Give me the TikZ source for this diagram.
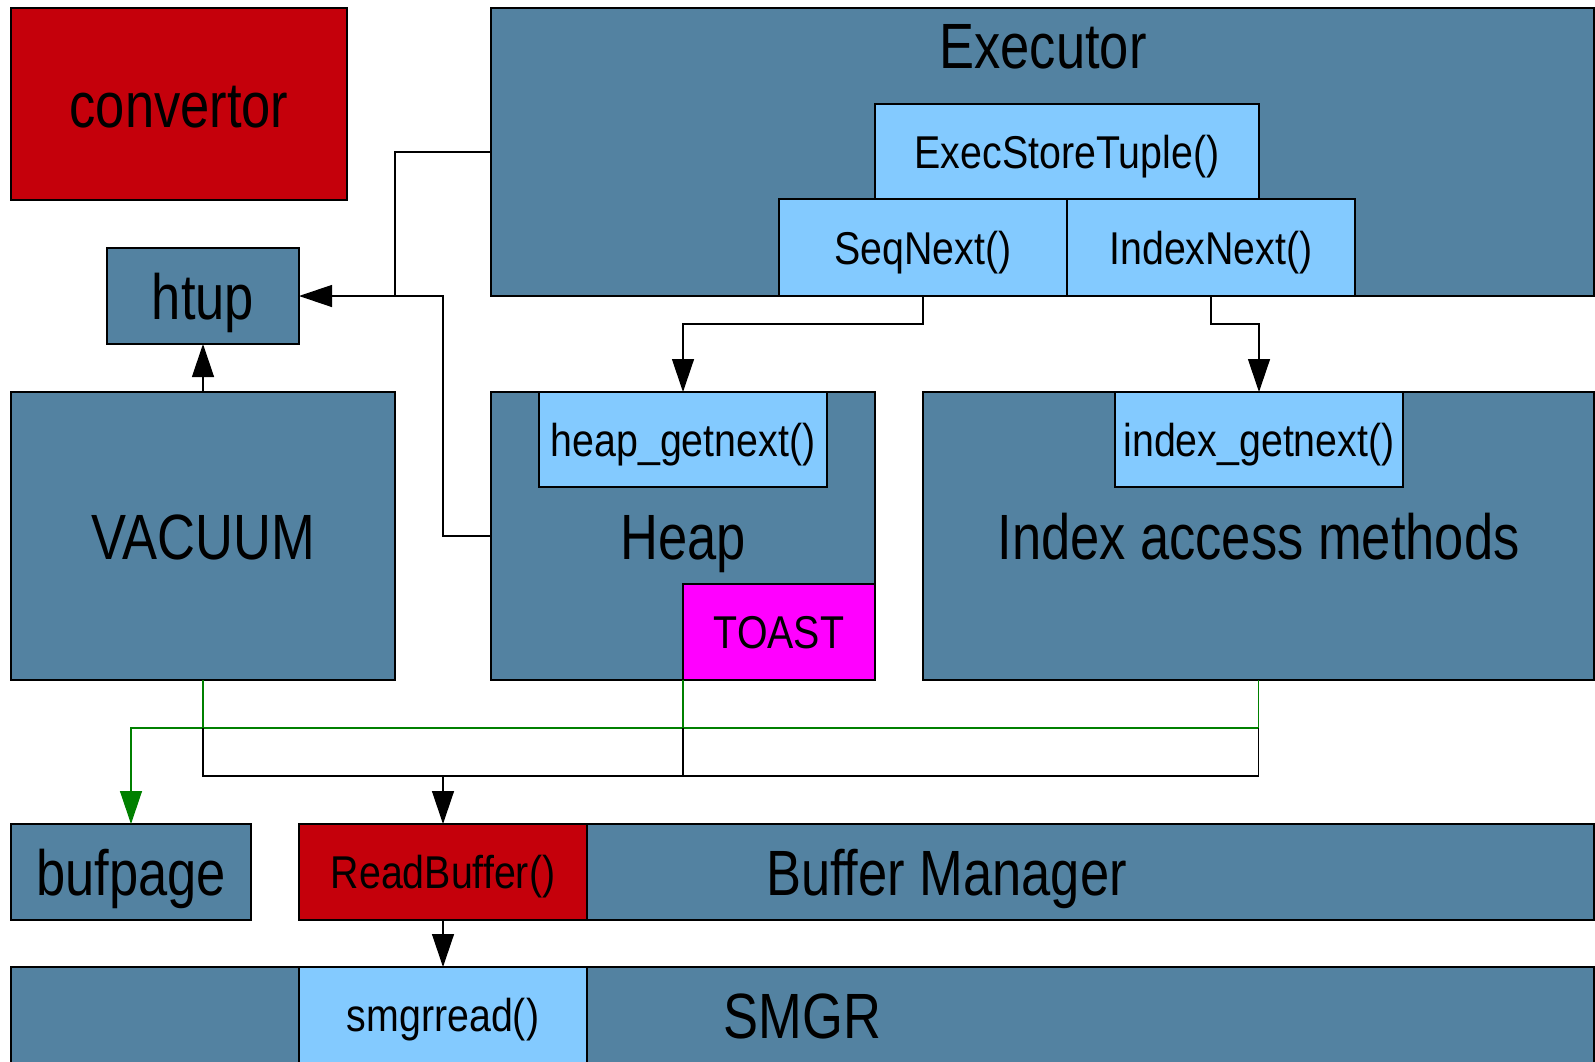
\documentclass[tikz,border=0pt]{standalone}
\usepackage{fontspec}
\setmainfont{Liberation Sans}[FakeStretch=0.82]
\newfontfamily\subface{Liberation Sans}[FakeStretch=0.855]
\usetikzlibrary{arrows.meta}

\definecolor{steel}{RGB}{83,130,161}
\definecolor{sky}{RGB}{131,202,255}
\definecolor{darkred}{RGB}{197,0,11}
\definecolor{toastpink}{RGB}{255,0,255}
\definecolor{wire}{RGB}{0,128,0}

\tikzset{
  box/.style 2 args={rectangle, draw=black, line width=1.6pt, inner sep=0pt,
    outer sep=0pt, anchor=north west, minimum width=#1, minimum height=#2,
    fill=steel, align=center},
  big/.style={font=\fontsize{64}{64}\selectfont, text height=46pt, text depth=0pt},
  small/.style={font=\subface\fontsize{46}{46}\selectfont, text height=33pt, text depth=0pt},
  conn/.style={line width=1.3pt, draw=black},
  tip/.style={-{Triangle[length=33pt,width=22pt]}},
}

\begin{document}
\begin{tikzpicture}[x=1pt, y=-1pt]
\useasboundingbox (0,0) rectangle (1595,1061);
\clip (0,0) rectangle (1595,1061);

% converter box
\node (conv) [box={336pt}{192pt}, fill=darkred, big] at (11,8) {convertor};

% executor with its scan nodes
\node (exec) [box={1103pt}{288pt}] at (491,8) {};
\node (execlabel) [font=\fontsize{64}{64}\selectfont, anchor=base] at (1043,68) {Executor};
\node (est) [box={384pt}{95pt}, fill=sky, small] at (875,104) {ExecStoreTuple()};
\node (seq) [box={288pt}{97pt}, fill=sky, small] at (779,199) {SeqNext()};
\node (idx) [box={288pt}{97pt}, fill=sky, small] at (1067,199) {IndexNext()};

% tuple header
\node (htup) [box={192pt}{96pt}, big] at (107,248) {htup};

% access layer
\node (vac) [box={384pt}{288pt}, big] at (11,392) {VACUUM};
\node (heap) [box={384pt}{288pt}, big] at (491,392) {Heap};
\node (hgn) [box={288pt}{95pt}, fill=sky, small] at (539,392) {heap\_getnext()};
\node (toast) [box={192pt}{96pt}, fill=toastpink, small] at (683,584) {TOAST};
\node (iam) [box={671pt}{288pt}, big] at (923,392) {Index access methods};
\node (ign) [box={288pt}{95pt}, fill=sky, small] at (1115,392) {index\_getnext()};

% buffer layer
\node (bufpage) [box={240pt}{96pt}, big] at (11,824) {bufpage};
\node (bm) [box={1295pt}{96pt}, big] at (299,824) {Buffer Manager};
\node (rb) [box={288pt}{96pt}, fill=darkred, small] at (299,824) {ReadBuffer()};

% storage manager
\node (smgr) [box={1583pt}{96pt}, big] at (11,967) {SMGR};
\node (smr) [box={288pt}{96pt}, fill=sky, small] at (299,967) {smgrread()};

% connectors to htup
\coordinate (hjoin) at (395,296);
\draw[conn, tip] (exec.west) -- ++(-96,0) |- (htup.east);
\draw[conn] (heap.west) -- ++(-48,0) |- (hjoin);
\draw[conn, tip] (vac.north) -- (htup.south);

% executor to access methods
\draw[conn, tip] (seq.south) -- ++(0,28) -| (hgn.north);
\draw[conn, tip] (idx.south) -- ++(0,28) -| (ign.north);

% page access (green)
\draw[conn, draw=wire, tip] (iam.south) -- ++(0,48) -| (bufpage.north);
\draw[conn, draw=wire] (vac.south) -- ++(0,48);
\draw[conn, draw=wire] (heap.south) -- ++(0,48);

% buffer reads (black)
\coordinate (bus) at ([yshift=-96pt]vac.south);
\draw[conn] ([yshift=-48pt]vac.south) -- (bus) -| ([yshift=-48pt]iam.south);
\draw[conn] ([yshift=-48pt]heap.south) -- ([yshift=-96pt]heap.south);
\draw[conn, tip] (bus -| rb.north) -- (rb.north);
\draw[conn, tip] (rb.south) -- (smr.north);
\end{tikzpicture}
\end{document}
